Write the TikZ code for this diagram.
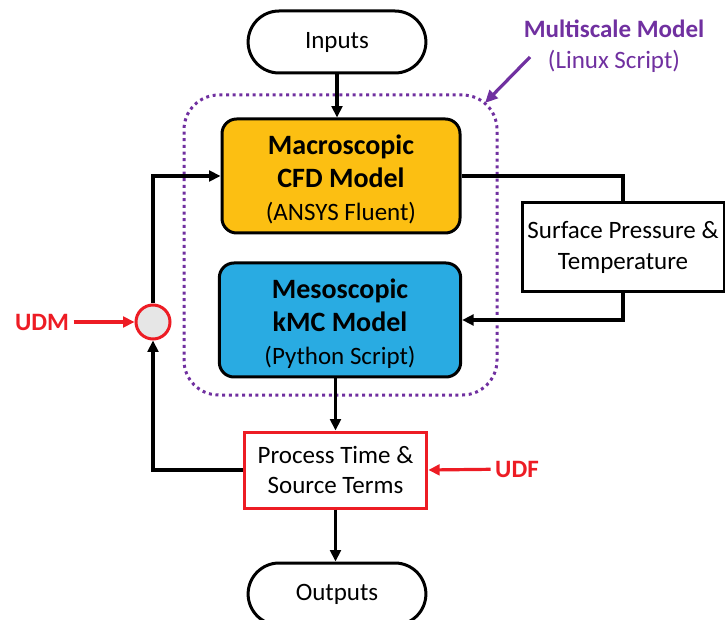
\documentclass[tikz,border=0pt]{standalone}
\usepackage{fontspec}
\setmainfont{Carlito}
\usetikzlibrary{shapes.misc}
\usetikzlibrary{arrows.meta}
\definecolor{macroyellow}{HTML}{FCBF12}
\definecolor{mesoblue}{HTML}{29ABE2}
\definecolor{udred}{HTML}{ED1C24}
\definecolor{msviolet}{HTML}{7030A0}
\definecolor{mixgray}{HTML}{E6E6E6}
\newcommand{\boxhead}{\fontsize{21}{24.75}\selectfont\bfseries}

\begin{document}
\begin{tikzpicture}[x=0.75pt,y=-0.75pt,
every node/.style={font=\fontsize{18.75}{23}\selectfont},
pill/.style={rounded rectangle,draw,line width=2.25pt,minimum width=140pt,minimum height=46.5pt},
model/.style={rectangle,rounded corners=11pt,draw,line width=2.25pt,align=center,font=\fontsize{18.75}{24.75}\selectfont},
plainbox/.style={rectangle,draw,line width=2.25pt,align=center,font=\fontsize{18.75}{22.75}\selectfont},
link/.style={line width=2.4pt,-{Triangle[length=8.5pt,width=8pt]}},
redlink/.style={udred,line width=2.4pt,-{Triangle[length=8.5pt,width=8pt]}},
tag/.style={text=udred,font=\fontsize{18.75}{22}\selectfont\bfseries}]
\useasboundingbox (0,0) rectangle (725,620);
\node[draw=msviolet,line width=2.25pt,dash pattern=on 2.25pt off 2.75pt,rounded corners=26pt,minimum width=234.75pt,minimum height=225pt] (msframe) at (340.5,245) {};
\node[pill] (inputs) at (337,42) {Inputs};
\node[model,fill=macroyellow,minimum width=178.5pt,minimum height=85.5pt] (macro) at (341,176) {{\boxhead\rule{0pt}{20pt}Macroscopic}\\{\boxhead CFD Model}\\(ANSYS Fluent)};
\node[model,fill=mesoblue,minimum width=181pt,minimum height=85.5pt] (meso) at (340,320) {{\boxhead\rule{0pt}{20pt}Mesoscopic}\\{\boxhead kMC Model}\\(Python Script)};
\node[plainbox,minimum width=151.5pt,minimum height=66.75pt] (surf) at (623,247.5) {Surface Pressure \&\\Temperature};
\node[plainbox,draw=udred,minimum width=137pt,minimum height=57pt] (proc) at (335.5,470) {Process Time \&\\Source Terms};
\node[pill] (outputs) at (337,594) {Outputs};
\node[circle,draw=udred,fill=mixgray,line width=2.25pt,minimum size=25.5pt,inner sep=0pt] (mix) at (153,322) {};
\node[tag] (udm) at (42,322) {UDM};
\node[tag] (udf) at (517,469) {UDF};
\node[text=msviolet,font=\fontsize{18.75}{22}\selectfont\bfseries] (multi) at (614,29) {Multiscale Model};
\node[text=msviolet] (linux) at (614,61) {(Linux Script)};
\coordinate (mstail) at (530,57);
\coordinate (mstip) at (485,103);

\draw[link] (inputs.south) -- (inputs.south |- macro.north);
\draw[line width=2.4pt] (macro.east) -| (surf.north);
\draw[link] (surf.south) |- (meso.east);
\draw[link] (proc.north |- meso.south) -- (proc.north);
\draw[link] (proc.south) -- (proc.south |- outputs.north);
\draw[link] (proc.west) -| (mix.south);
\draw[link] (mix.north) |- (macro.west);
\draw[redlink] (udm) -- (mix);
\draw[redlink] (udf) -- (proc.east);
\draw[msviolet,line width=2.4pt,-{Triangle[length=9.5pt,width=8.5pt]}] (mstail) -- (mstip);
\end{tikzpicture}
\end{document}
